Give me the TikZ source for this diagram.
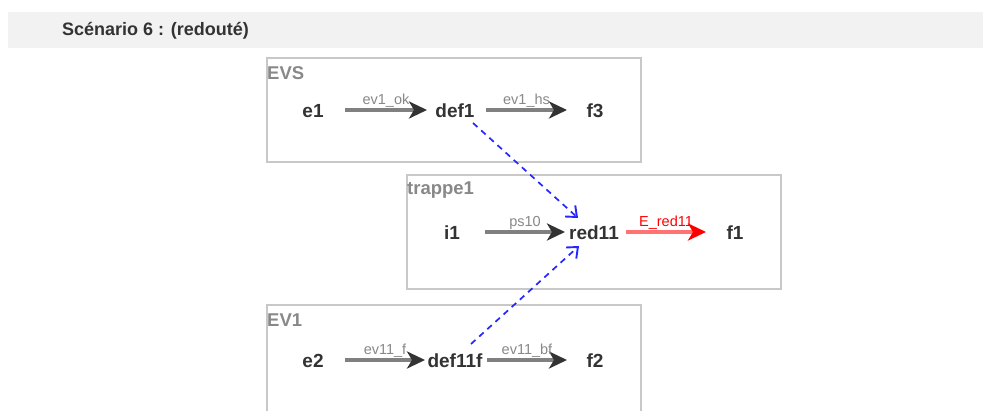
\documentclass[tikz,border=0pt]{standalone}
\usepackage{fontspec}
\setmainfont{Liberation Sans}
\usetikzlibrary{arrows.meta}
\definecolor{hdr}{HTML}{F2F2F2}
\definecolor{boxline}{HTML}{C8C8C8}
\definecolor{txt}{HTML}{333333}
\definecolor{lbl}{HTML}{888888}
\definecolor{shaft}{HTML}{808080}
\begin{document}
\begin{tikzpicture}[x=1pt,y=-1pt,
  st/.style={font=\bfseries\fontsize{19}{22}\selectfont, text=txt, inner sep=1pt},
  grp/.style={draw=boxline, line width=1.2pt},
  grplbl/.style={font=\bfseries\fontsize{18.5}{21}\selectfont, text=lbl, anchor=west, inner sep=0pt},
  tr/.style={draw=shaft, line width=3.3pt, -{Stealth[length=18pt,width=17pt,inset=5pt,color=txt]}},
  trl/.style={font=\fontsize{14.5}{16}\selectfont, text=lbl, inner sep=0pt, anchor=base, yshift=5pt},
  dep/.style={draw=blue!85!white, line width=1.7pt, dash pattern=on 6pt off 5pt, -{Straight Barb[length=9pt,width=15pt,line width=1.9pt]}}]
\useasboundingbox (0,0) rectangle (983,411);
\fill[hdr] (8,12) rectangle (983,48);
\node[anchor=west, font=\bfseries\fontsize{18}{20}\selectfont, text=txt, inner sep=0pt] (title) at (62,31) {Scénario 6 : (redouté)};
% groups
\draw[grp] (267,58) rectangle (641,162);
\node[grplbl] (gEVS) at (267,73) {EVS};
\draw[grp] (407,175) rectangle (781,289);
\node[grplbl] (gtr) at (407,190) {trappe1};
\draw[grp] (267,412) -- (267,305) -- (641,305) -- (641,412);
\node[grplbl] (gEV1) at (267,320) {EV1};
% states
\node[st] (e1) at (313,111) {e1};
\node[st] (def1) at (455,111) {def1};
\node[st] (f3) at (595,111) {f3};
\node[st] (i1) at (452,233) {i1};
\node[st] (red11) at (594,233) {red11};
\node[st] (f1) at (735,233) {f1};
\node[st] (e2) at (313,361) {e2};
\node[st] (def11f) at (455,361) {def11f};
\node[st] (f2) at (595,361) {f2};
% coordinates for edges
\coordinate (a1) at (345,110); \coordinate (b1) at (427,110);
\coordinate (a2) at (486,110); \coordinate (b2) at (567,110);
\coordinate (a3) at (485,232); \coordinate (b3) at (565,232);
\coordinate (a4) at (626,232); \coordinate (b4) at (706,232);
\coordinate (a5) at (345,360); \coordinate (b5) at (425,360);
\coordinate (a6) at (487,360); \coordinate (b6) at (567,360);
\draw[tr] (a1) -- node[trl] {ev1\_ok} (b1);
\draw[tr] (a2) -- node[trl] {ev1\_hs} (b2);
\draw[tr] (a3) -- node[trl] {ps10} (b3);
\draw[draw=red!55!white, line width=3.3pt, -{Stealth[length=18pt,width=17pt,inset=5pt,color=red]}] (a4) -- node[trl, text=red] {E\_red11} (b4);
\draw[tr] (a5) -- node[trl] {ev11\_f} (b5);
\draw[tr] (a6) -- node[trl] {ev11\_bf} (b6);
% dependencies
\coordinate (d1) at (473,123); \coordinate (t1) at (578,218);
\coordinate (d2) at (471,344); \coordinate (t2) at (579,246);
\draw[dep] (d1) -- (t1);
\draw[dep] (d2) -- (t2);
\end{tikzpicture}
\end{document}
